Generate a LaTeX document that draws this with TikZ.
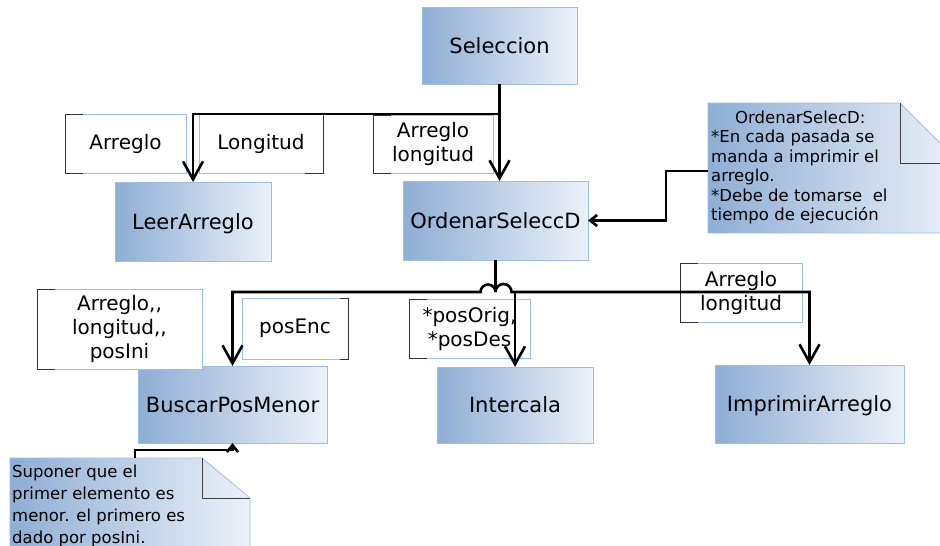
\documentclass[tikz,border=0pt]{standalone}
\usepackage{fontspec}
\setmainfont{DejaVu Sans}
\usetikzlibrary{arrows.meta}
\definecolor{boxdark}{rgb}{0.557,0.682,0.835}
\definecolor{boxlight}{rgb}{0.925,0.945,0.976}
\definecolor{boxline}{rgb}{0.620,0.745,0.878}

\tikzset{
  modulo/.style={rectangle,draw=boxline,line width=0.8pt,
    left color=boxdark,right color=boxlight,inner sep=0pt,outer sep=0pt,
    text height=15.3pt,text depth=0pt,font=\fontsize{21}{25}\selectfont},
  dato/.style={rectangle,draw=boxline,line width=0.8pt,fill=white,
    inner sep=0pt,outer sep=0pt,align=center,font=\fontsize{20}{24}\selectfont},
  nota/.style={left color=boxdark,right color=boxlight,draw=boxline,line width=0.8pt},
  pliegue/.style={line width=0.8pt,black!75},
  texto nota/.style={inner sep=0pt,align=left,font=\fontsize{16.5}{19.5}\selectfont},
  corchete/.style={line width=1pt,black!80},
  linea/.style={line width=2.6pt},
  flecha/.style={linea,-{Straight Barb[length=18pt,width=20pt]}},
  flecha chica/.style={linea,-{Straight Barb[length=7pt,width=11pt]}}
}

\begin{document}
\begin{tikzpicture}[x=1pt,y=-1pt]

\useasboundingbox (0,0) rectangle (940,546);
\clip (0,0) rectangle (940,546);

% modulos
\node [modulo,minimum width=155pt,minimum height=77pt] (sel) at (499.5,45.5) {Seleccion};
\node [modulo,minimum width=156pt,minimum height=79pt] (leer) at (193,221.5) {LeerArreglo};
\node [modulo,minimum width=185pt,minimum height=79pt] (ord) at (495.5,220.5) {OrdenarSeleccD};
\node [modulo,minimum width=189pt,minimum height=77pt] (busc) at (232.5,404.5) {BuscarPosMenor};
\node [modulo,minimum width=156pt,minimum height=76pt] (inter) at (515,405) {Intercala};
\node [modulo,minimum width=189pt,minimum height=78pt] (impr) at (809.5,404) {ImprimirArreglo};

% parametros
\node [dato,minimum width=121pt,minimum height=59pt] (arr1) at (125.5,143.5) {Arreglo};
\node [dato,minimum width=124pt,minimum height=59pt] (lon1) at (261,143.5) {Longitud};
\node [dato,minimum width=120pt,minimum height=58pt] (arr2) at (433,144) {Arreglo\\longitud};
\node [dato,minimum width=165pt,minimum height=80pt] (arr3) at (119.5,329) {Arreglo,{},\\longitud,{},\\posIni};
\node [dato,minimum width=106pt,minimum height=61pt] (pos1) at (295,328.5) {posEnc};
\node [dato,minimum width=121pt,minimum height=59pt] (pos2) at (469.5,328.5) {{*}posOrig,\\{*}posDes};
\node [dato,minimum width=122pt,minimum height=59pt] (arr4) at (741,292.5) {Arreglo\\longitud};

\draw [corchete] ([xshift=18pt]arr1.north west) -- (arr1.north west) -- (arr1.south west) -- ([xshift=18pt]arr1.south west);
\draw [corchete] ([xshift=-18pt]lon1.north east) -- (lon1.north east) -- (lon1.south east) -- ([xshift=-18pt]lon1.south east);
\draw [corchete] ([xshift=18pt]arr2.north west) -- (arr2.north west) -- (arr2.south west) -- ([xshift=18pt]arr2.south west);
\draw [corchete] ([xshift=18pt]arr3.north west) -- (arr3.north west) -- (arr3.south west) -- ([xshift=18pt]arr3.south west);
\draw [corchete] ([xshift=-8pt]pos1.north east) -- (pos1.north east) -- (pos1.south east) -- ([xshift=-8pt]pos1.south east);
\draw [corchete] ([xshift=18pt]pos2.north west) -- (pos2.north west) -- (pos2.south west) -- ([xshift=18pt]pos2.south west);
\draw [corchete] ([xshift=18pt]arr4.north west) -- (arr4.north west) -- (arr4.south west) -- ([xshift=18pt]arr4.south west);

% notas
\shadedraw [nota] (708,103) -- (900,103) -- (960,163) -- (960,233) -- (708,233) -- cycle;
\draw [pliegue] (900,103) -- (900,163) -- (960,163);
\node [texto nota,anchor=west] (txt1) at (711,167.5)
      {\hspace*{24pt}OrdenarSelecD:\\{*}En cada pasada se\\manda a imprimir el\\arreglo.\\{*}Debe de tomarse~ el\\tiempo de ejecución};

\shadedraw [nota] (10,458) -- (202,458) -- (250,498) -- (250,560) -- (10,560) -- cycle;
\draw [pliegue] (202,458) -- (202,498) -- (250,498);
\node [texto nota,anchor=west,font=\fontsize{16.5}{22}\selectfont] (txt2) at (12,506)
      {Suponer que el\\primer elemento es\\menor. el primero es\\dado por posIni.};

% conexiones
\coordinate (j1) at ([yshift=-30pt]sel.south);
\draw [flecha] (sel.south) -- (sel.south |- ord.north);
\draw [flecha] (j1) -| (leer.north);

\coordinate (j2) at ([yshift=-32pt]ord.south);
\draw [linea] (ord.south) -- (j2);
\draw [flecha] (j2) arc [start angle=0,end angle=180,radius=7.5pt] -| (busc.north);
\draw [flecha] (j2) arc [start angle=180,end angle=0,radius=8pt] -| (impr.north);
\draw [flecha] (inter.north |- j2) -- (inter.north);

\coordinate (n1) at (708,171);
\draw [flecha chica] (n1) -- ++(-42,0) |- (ord.east);
\coordinate (n2) at (135,458);
\draw [flecha chica] (n2) -- ++(0,-8) -| (busc.south);

\end{tikzpicture}
\end{document}
